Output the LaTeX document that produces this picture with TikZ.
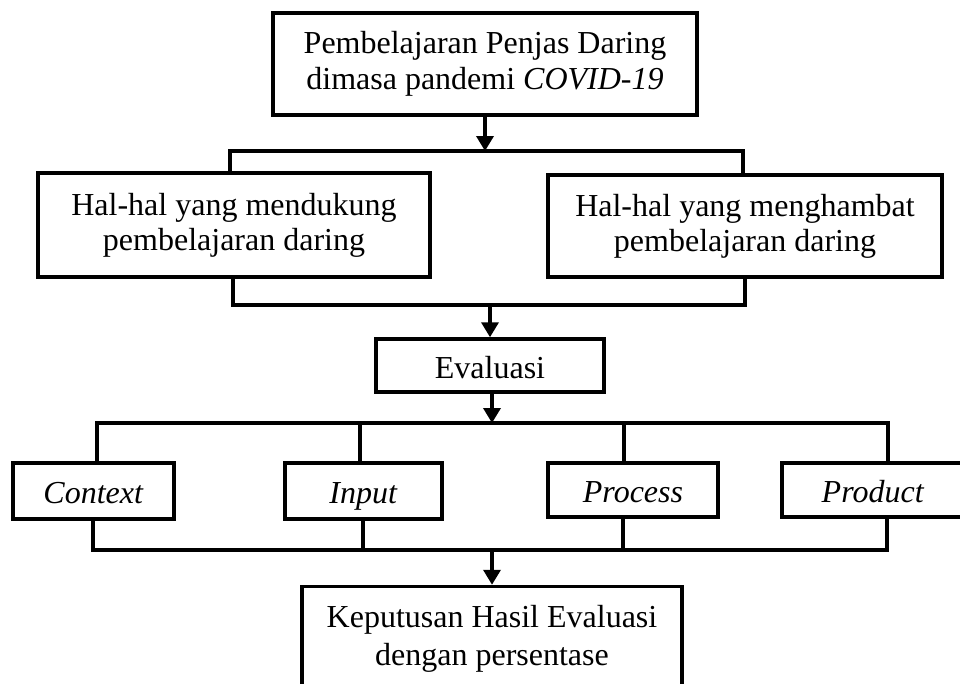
\documentclass[tikz,border=0pt]{standalone}
\usepackage{fontspec}
\setmainfont{Liberation Serif}
\usetikzlibrary{arrows.meta}
\begin{document}
\begin{tikzpicture}[x=1pt,y=-1pt,
  box/.style={draw, line width=3.5pt, inner sep=0pt, align=center, font=\fontsize{32}{35}\selectfont},
  onebox/.style={box, text height=31pt, text depth=6pt},
  conn/.style={line width=3.5pt},
  arr/.style={line width=3.5pt, -{Triangle[width=17pt,length=15pt]}}]
\useasboundingbox (0,0) rectangle (960,683);
\node[box, font=\fontsize{32}{36}\selectfont, minimum width=424pt, minimum height=102pt] (top) at (485,64) {Pembelajaran Penjas Daring\\dimasa pandemi \textit{COVID-19}};
\node[box, minimum width=392pt, minimum height=104pt] (L) at (234,225) {Hal-hal yang mendukung\\pembelajaran daring};
\node[box, minimum width=394pt, minimum height=102pt] (R) at (745,226) {Hal-hal yang menghambat\\pembelajaran daring};
\node[onebox, minimum width=228pt, minimum height=53pt] (ev) at (490,365.5) {Evaluasi};
\node[onebox, minimum width=161pt, minimum height=56pt] (ctx) at (93.5,491) {\textit{Context}};
\node[onebox, minimum width=157pt, minimum height=56pt] (inp) at (363.5,491) {\textit{Input}};
\node[onebox, minimum width=170pt, minimum height=54pt] (prc) at (633,490) {\textit{Process}};
\node[onebox, minimum width=182pt, minimum height=54pt] (prd) at (873,490) {\textit{Product}};
\node[box, font=\fontsize{32}{38}\selectfont, minimum width=380pt, minimum height=105pt] (fin) at (492,639) {Keputusan Hasil Evaluasi\\dengan persentase};
% top -> split
\coordinate (s1) at (485,151);
\draw[arr] (top.south) -- (s1);
\draw[conn] (230,173) coordinate (l1) |- (s1) -| (743,175) coordinate (r1);
% merge -> Evaluasi
\coordinate (s2) at (490,305);
\draw[conn] (L.south -| 233,0) |- (s2) -| (R.south -| 745,0);
\draw[arr] (s2) -- (ev.north);
% Evaluasi -> split 4
\coordinate (s3) at (492,423);
\draw[arr] (ev.south -| s3) -- (s3);
\coordinate (c1) at (97,423);
\coordinate (c2) at (360,423);
\coordinate (c3) at (624,423);
\coordinate (c4) at (888,423);
\draw[conn] (c1 |- ctx.north) -- (c1) -- (c4) -- (c4 |- prd.north);
\draw[conn] (c2) -- (c2 |- inp.north);
\draw[conn] (c3) -- (c3 |- prc.north);
% merge 4 -> final
\coordinate (s4) at (492,550);
\coordinate (d1) at (93,550);
\coordinate (d2) at (363,550);
\coordinate (d3) at (623,550);
\coordinate (d4) at (887,550);
\draw[conn] (d1 |- ctx.south) -- (d1) -- (d4) -- (d4 |- prd.south);
\draw[conn] (d2 |- inp.south) -- (d2);
\draw[conn] (d3 |- prc.south) -- (d3);
\draw[arr] (s4) -- (fin.north -| s4);
\end{tikzpicture}
\end{document}
